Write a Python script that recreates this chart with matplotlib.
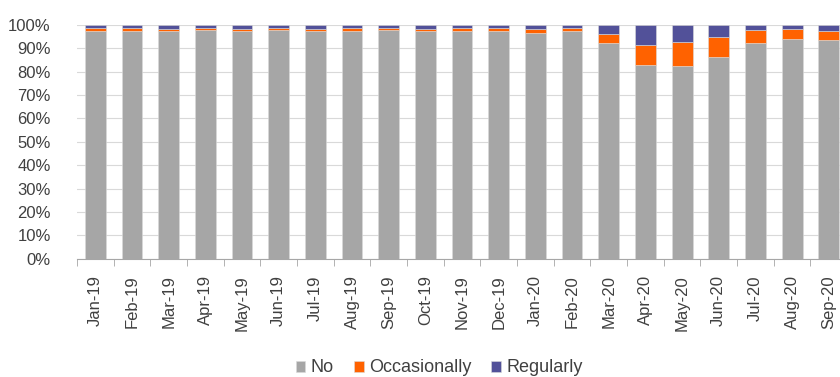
import matplotlib
matplotlib.use('Agg')
import matplotlib.pyplot as plt
import matplotlib.ticker as ticker
import numpy as np

plt.rc('font', **{'size': 12, 'family': 'Liberation Sans'})

months = ['Jan-19', 'Feb-19', 'Mar-19', 'Apr-19', 'May-19', 'Jun-19', 'Jul-19',
          'Aug-19', 'Sep-19', 'Oct-19', 'Nov-19', 'Dec-19', 'Jan-20', 'Feb-20',
          'Mar-20', 'Apr-20', 'May-20', 'Jun-20', 'Jul-20', 'Aug-20', 'Sep-20']
no = [97.3, 97.3, 97.6, 98.0, 97.4, 97.7, 97.6, 97.3, 98.0, 97.3, 97.3,
      97.3, 96.6, 97.3, 92.2, 82.8, 82.4, 86.4, 92.3, 94.2, 93.7]
occasionally = [1.2, 1.2, 0.8, 0.7, 0.9, 0.8, 0.8, 1.3, 0.7, 1.0, 1.2,
                1.2, 1.7, 1.2, 4.0, 8.7, 10.1, 8.5, 5.4, 4.0, 3.7]
regularly = [1.5, 1.5, 1.6, 1.3, 1.7, 1.5, 1.6, 1.4, 1.3, 1.7, 1.5,
             1.5, 1.7, 1.5, 3.8, 8.5, 7.5, 5.1, 2.3, 1.8, 2.6]

GREY = '#A6A6A6'
ORANGE = '#FF6200'
PURPLE = '#525199'

fig = plt.figure(figsize=(8.4, 3.77), dpi=100)
ax = fig.add_axes([0.0917, 0.3138, 0.9167, 0.620])

x = np.arange(len(months))
no_a = np.array(no) / 100
occ_a = np.array(occasionally) / 100
reg_a = np.array(regularly) / 100

kw = dict(width=0.57, edgecolor='#DADADA', linewidth=0.4, zorder=3)
ax.bar(x, no_a, color=GREY, label='No', **kw)
ax.bar(x, occ_a, bottom=no_a, color=ORANGE, label='Occasionally', **kw)
ax.bar(x, reg_a, bottom=no_a + occ_a, color=PURPLE, label='Regularly', **kw)

ax.set_xlim(-0.5, len(months) - 0.5)
ax.set_ylim(0, 1)
ax.yaxis.set_major_locator(ticker.MultipleLocator(0.1))
ax.yaxis.set_major_formatter(ticker.PercentFormatter(1.0, decimals=0))
ax.grid(axis='y', color='#D9D9D9', linewidth=0.8, zorder=0)
ax.set_axisbelow(True)

# ticks between categories, labels at bar centres
ax.set_xticks(x)
ax.set_xticklabels(months, rotation=90, color='#404040')
ax.xaxis.set_minor_locator(ticker.FixedLocator(np.arange(-0.5, len(months), 1)))
ax.tick_params(axis='x', which='major', length=0, pad=12)
ax.tick_params(axis='x', which='minor', length=5, color='#A6A6A6')
ax.tick_params(axis='y', length=0, pad=19, colors='#404040')

for s in ['left', 'right', 'top']:
    ax.spines[s].set_visible(False)
ax.spines['bottom'].set_color('#A6A6A6')

ax.legend(loc='center', bbox_to_anchor=(0.523, 0.024), bbox_transform=fig.transFigure,
          ncol=3, frameon=False, fontsize=13, handlelength=0.55, handleheight=0.55,
          handletextpad=0.3, columnspacing=1.1, labelcolor='#404040')

fig.savefig('out.png', dpi=100)
